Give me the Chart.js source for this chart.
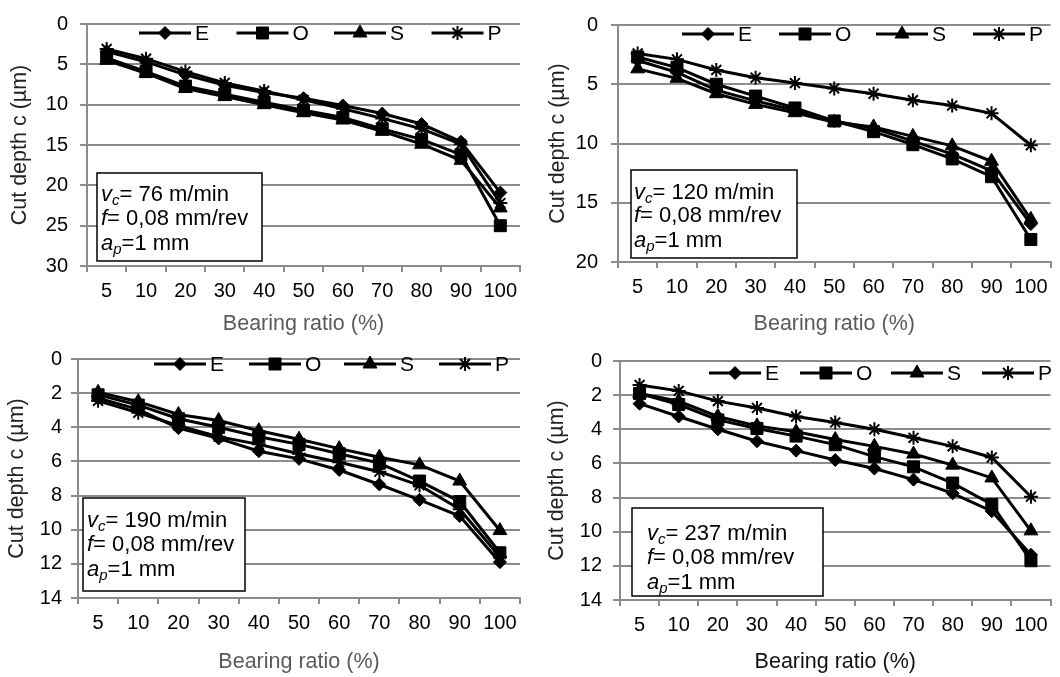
<!DOCTYPE html>
<html><head><meta charset="utf-8">
<script src="https://cdn.jsdelivr.net/npm/chart.js@4.4.1/dist/chart.umd.min.js"></script>
<style>
html,body{margin:0;padding:0;background:#fff;}
#wrap{position:relative;width:1060px;height:677px;overflow:hidden;background:#fff;}
canvas{position:absolute;}
</style></head><body><div id="wrap">
<canvas id="c1" width="530" height="338" style="left:0px;top:0px"></canvas>
<canvas id="c2" width="530" height="338" style="left:530px;top:0px"></canvas>
<canvas id="c3" width="530" height="339" style="left:0px;top:338px"></canvas>
<canvas id="c4" width="530" height="339" style="left:530px;top:338px"></canvas>
</div>
<script>
// ---- data ----
const categories = ['5','10','20','30','40','50','60','70','80','90','100'];
const seriesNames = ['E','O','S','P'];
const speeds = ['76','120','190','237'];
const yMax = [30, 20, 14, 14];
const yStep = [5, 5, 2, 2];
const xTitle = 'Bearing ratio (%)';
const yTitle = 'Cut depth c (\u00b5m)';

const E76 = [3.4, 4.7, 6.3, 7.6, 8.5, 9.2, 10.1, 11.1, 12.4, 14.6, 20.9];
const O76 = [4.2, 5.9, 7.7, 8.7, 9.7, 10.7, 11.6, 13.0, 14.3, 16.2, 25.0];
const S76 = [4.5, 6.1, 8.0, 9.0, 10.0, 11.0, 11.9, 13.3, 14.9, 16.9, 22.8];
const P76 = [3.1, 4.3, 5.9, 7.3, 8.3, 9.4, 10.5, 11.7, 13.0, 14.9, 22.2];

const E120 = [3.0, 4.0, 5.5, 6.4, 7.2, 8.1, 8.7, 9.8, 10.9, 12.3, 16.8];
const O120 = [2.7, 3.6, 5.0, 6.0, 7.0, 8.1, 9.0, 10.1, 11.3, 12.8, 18.1];
const S120 = [3.7, 4.5, 5.8, 6.7, 7.4, 8.2, 8.6, 9.4, 10.2, 11.5, 16.4];
const P120 = [2.4, 2.9, 3.8, 4.45, 4.9, 5.35, 5.8, 6.35, 6.8, 7.45, 10.15];

const E190 = [2.3, 2.95, 4.05, 4.65, 5.4, 5.85, 6.5, 7.35, 8.25, 9.2, 11.9];
const O190 = [2.1, 2.7, 3.5, 4.0, 4.55, 5.0, 5.55, 6.1, 7.15, 8.35, 11.35];
const S190 = [1.95, 2.5, 3.25, 3.6, 4.2, 4.7, 5.25, 5.75, 6.2, 7.15, 10.05];
const P190 = [2.45, 3.15, 3.9, 4.55, 5.0, 5.55, 6.05, 6.6, 7.4, 8.8, 11.6];

const E237 = [2.5, 3.25, 4.0, 4.7, 5.25, 5.8, 6.3, 6.95, 7.75, 8.8, 11.35];
const O237 = [1.9, 2.55, 3.45, 3.95, 4.4, 4.9, 5.6, 6.2, 7.15, 8.4, 11.7];
const S237 = [1.9, 2.35, 3.25, 3.8, 4.15, 4.6, 5.0, 5.45, 6.1, 6.85, 9.95];
const P237 = [1.4, 1.75, 2.35, 2.75, 3.25, 3.6, 4.0, 4.5, 5.0, 5.65, 7.95];

const panelSeries = [
  [E76, O76, S76, P76],
  [E120, O120, S120, P120],
  [E190, O190, S190, P190],
  [E237, O237, S237, P237]
];

// ---- styles / layout ----
const FONT = '"Liberation Sans", Arial, sans-serif';
const GRID = '#8c8c8c';
const markerStyles = [
  {pointStyle: 'rectRot', radius: 6.5, borderWidth: 1},
  {pointStyle: 'rect', radius: 8.5, borderWidth: 1},
  {pointStyle: 'triangle', radius: 8, borderWidth: 1},
  {pointStyle: 'star', radius: 7, borderWidth: 2}
];

const panels = [
  {id:'c1', cx:0, cy:0, w:530, h:338, area:{l:87,t:16,r:520,b:266}, yPad:12, yTitleX:20, xTitleY:324,
   legend:{x:139,y:33,step:97.5}, box:{l:97,t:173,r:262,b:261}, text:{x:101, ys:[195,219,244]}, xTitleColor:'#5a5a5a'},
  {id:'c2', cx:530, cy:0, w:530, h:338, area:{l:618,t:16,r:1058,b:262}, yPad:13, yTitleX:558, xTitleY:324,
   legend:{x:682,y:34,step:97}, box:{l:631,t:170,r:797,b:258}, text:{x:634, ys:[193,216,241]}, xTitleColor:'#5a5a5a'},
  {id:'c3', cx:0, cy:338, w:530, h:339, area:{l:78,t:347,r:520,b:598}, yPad:9, yTitleX:17, xTitleY:662,
   legend:{x:154,y:364,step:95}, box:{l:83,t:498,r:245,b:591}, text:{x:87, ys:[521,545,570]}, xTitleColor:'#5a5a5a'},
  {id:'c4', cx:530, cy:338, w:530, h:339, area:{l:620,t:359,r:1058,b:600}, yPad:11, yTitleX:557, xTitleY:662,
   legend:{x:709,y:373,step:91}, box:{l:632,t:508,r:823,b:596}, text:{x:647, ys:[534,558,583]}, xTitleColor:'#111'}
];

const TITLE_SIZE = 21.5;
const TITLE_LH = TITLE_SIZE * 1.2;

function drawMarker(ctx, ms, x, y) {
  ctx.save();
  ctx.fillStyle = '#000';
  ctx.strokeStyle = '#000';
  ctx.lineWidth = ms.borderWidth;
  if (Chart.helpers && Chart.helpers.drawPoint) {
    Chart.helpers.drawPoint(ctx, {pointStyle: ms.pointStyle, radius: ms.radius, borderWidth: ms.borderWidth, rotation: 0}, x, y);
  }
  ctx.restore();
}

function decoPlugin(p, idx) {
  return {
    id: 'deco' + idx,
    afterDraw(chart) {
      const ctx = chart.ctx;
      const ox = p.cx, oy = p.cy;
      // legend
      ctx.save();
      ctx.font = '21px ' + FONT;
      ctx.textBaseline = 'middle';
      ctx.textAlign = 'left';
      seriesNames.forEach((name, i) => {
        const x0 = p.legend.x + i * p.legend.step - ox;
        const y0 = p.legend.y - oy;
        ctx.strokeStyle = '#000';
        ctx.lineWidth = 3;
        ctx.beginPath();
        ctx.moveTo(x0, y0);
        ctx.lineTo(x0 + 52, y0);
        ctx.stroke();
        drawMarker(ctx, markerStyles[i], x0 + 26, y0);
        ctx.fillStyle = '#000';
        ctx.fillText(name, x0 + 56, y0 + 1);
      });
      ctx.restore();
      // info box
      ctx.save();
      const b = p.box;
      ctx.fillStyle = '#fff';
      ctx.fillRect(b.l - ox, b.t - oy, b.r - b.l, b.b - b.t);
      ctx.strokeStyle = '#000';
      ctx.lineWidth = 1.5;
      ctx.strokeRect(b.l - ox, b.t - oy, b.r - b.l, b.b - b.t);
      ctx.fillStyle = '#000';
      ctx.textBaseline = 'middle';
      const it = 'italic 22px ' + FONT, nf = '22px ' + FONT, sf = 'italic 15px ' + FONT;
      const lines = [
        [[it,'v',0],[sf,'c',6],[nf,'= ' + speeds[idx] + ' m/min',0]],
        [[it,'f',0],[nf,'= 0,08 mm/rev',0]],
        [[it,'a',0],[sf,'p',6],[nf,'=1 mm',0]]
      ];
      lines.forEach((ln, li) => {
        let x = p.text.x - ox;
        const y = p.text.ys[li] - oy;
        ln.forEach(([f, s, dy]) => {
          ctx.font = f;
          ctx.fillText(s, x, y + dy);
          x += ctx.measureText(s).width;
        });
      });
      ctx.restore();
    }
  };
}

panels.forEach((p, idx) => {
  const a = p.area;
  const padTop = a.t - p.cy;
  const padRight = p.cx + p.w - a.r;
  const yW = a.l - p.cx;
  const xH = p.cy + p.h - a.b;
  const datasets = panelSeries[idx].map((vals, i) => ({
    label: seriesNames[i],
    data: vals,
    borderColor: '#000',
    backgroundColor: '#000',
    borderWidth: 3,
    tension: 0,
    pointStyle: markerStyles[i].pointStyle,
    pointRadius: markerStyles[i].radius,
    pointBorderWidth: markerStyles[i].borderWidth,
    pointBackgroundColor: '#000',
    pointBorderColor: '#000'
  }));
  new Chart(document.getElementById(p.id), {
    type: 'line',
    data: {labels: categories, datasets},
    options: {
      responsive: false,
      animation: false,
      devicePixelRatio: 1,
      layout: {padding: {left: 0, top: padTop, right: padRight, bottom: 0}},
      plugins: {legend: {display: false}, tooltip: {enabled: false}},
      scales: {
        x: {
          type: 'category',
          offset: true,
          grid: {offset: true, drawOnChartArea: false, drawTicks: true, tickLength: 6, color: GRID, lineWidth: 2},
          border: {color: GRID, width: 2},
          ticks: {color: '#000', font: {family: FONT, size: 20}, padding: 7, maxRotation: 0, autoSkip: false},
          title: {display: true, text: xTitle, color: p.xTitleColor, font: {family: FONT, size: TITLE_SIZE},
                  padding: {top: 0, bottom: (p.cy + p.h) - p.xTitleY - TITLE_LH / 2}},
          afterFit: (s) => { s.height = xH; }
        },
        y: {
          type: 'linear',
          reverse: true,
          min: 0,
          max: yMax[idx],
          grid: {color: GRID, lineWidth: 2, tickLength: 7, drawTicks: true},
          border: {color: GRID, width: 2},
          ticks: {stepSize: yStep[idx], color: '#000', font: {family: FONT, size: 20}, padding: p.yPad},
          title: {display: true, text: yTitle, color: '#222', font: {family: FONT, size: TITLE_SIZE},
                  padding: {top: (p.yTitleX - p.cx) - TITLE_LH / 2, bottom: 0}},
          afterFit: (s) => { s.width = yW; }
        }
      }
    },
    plugins: [decoPlugin(p, idx)]
  });
});
</script>
</body></html>
